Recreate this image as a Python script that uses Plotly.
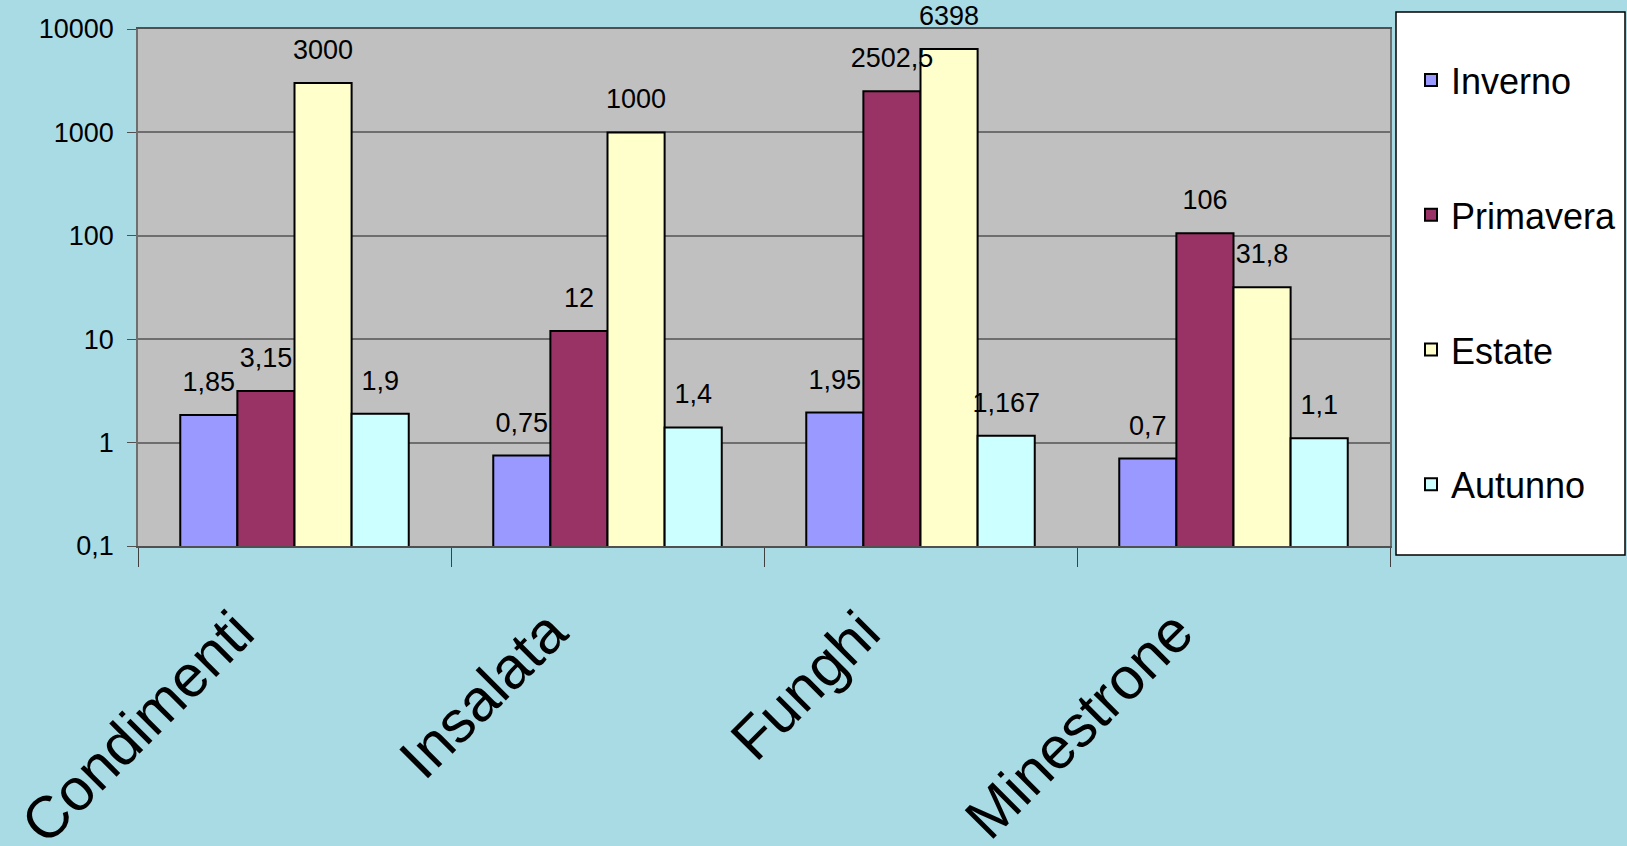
import plotly.graph_objects as go

categories = ["Condimenti", "Insalata", "Funghi", "Minestrone"]
series_names = ["Inverno", "Primavera", "Estate", "Autunno"]
inverno = [1.85, 0.75, 1.95, 0.7]
primavera = [3.15, 12, 2502.5, 106]
estate = [3000, 1000, 6398, 31.8]
autunno = [1.9, 1.4, 1.167, 1.1]
series_values = [inverno, primavera, estate, autunno]
colors = ["#9999ff", "#993366", "#ffffcc", "#ccffff"]
y_tickvals = [0.1, 1, 10, 100, 1000, 10000]
y_ticktext = ["0,1", "1", "10", "100", "1000", "10000"]

W, H = 1627, 846
L, R, T, B = 138, 1390, 29, 546
FONT = "Liberation Sans, Arial, sans-serif"


def fmt(v):
    if float(v).is_integer():
        return str(int(v))
    return repr(v).replace(".", ",")


def px_x(x):
    return (x - L) / (R - L)


def px_y(y):
    return (B - y) / (B - T)


fig = go.Figure()
for i, (name, vals) in enumerate(zip(series_names, series_values)):
    fig.add_trace(go.Bar(
        x=categories, y=vals, name=name,
        marker=dict(color=colors[i], line=dict(color="black", width=2)),
        legendgroup=name, hoverinfo="x+y+name",
    ))
# data labels (grouped scatter text so they sit above each bar)
for i, (name, vals) in enumerate(zip(series_names, series_values)):
    fig.add_trace(go.Scatter(
        x=categories, y=vals, mode="markers+text", name=name,
        marker=dict(size=26, color="rgba(0,0,0,0)"),
        text=[fmt(v) for v in vals], textposition="top center",
        textfont=dict(family=FONT, size=27, color="black"),
        cliponaxis=False, showlegend=False, hoverinfo="skip",
    ))

# legend frame
fig.add_shape(type="rect", xref="paper", yref="paper",
              x0=px_x(1396), x1=px_x(1625), y0=px_y(555), y1=px_y(12),
              fillcolor="white", line=dict(color="black", width=1.5), layer="below")

fig.update_layout(
    width=W, height=H,
    margin=dict(l=L, r=W - R, t=T, b=H - B, pad=0, autoexpand=False),
    paper_bgcolor="#a9dbe5",
    plot_bgcolor="#c0c0c0",
    barmode="group", bargap=0.27, bargroupgap=0,
    scattermode="group", scattergap=0.27,
    font=dict(family=FONT, color="black"),
    showlegend=True,
    legend=dict(x=px_x(1411), xanchor="left", y=px_y(50), yanchor="top",
                bgcolor="rgba(0,0,0,0)", borderwidth=0,
                font=dict(size=36, family=FONT),
                tracegroupgap=85, traceorder="grouped"),
)
fig.update_yaxes(type="log", range=[-1, 4], tickvals=y_tickvals, ticktext=y_ticktext,
                 showgrid=True, gridcolor="#6e6e6e", gridwidth=1.5,
                 ticks="outside", ticklen=9, tickcolor="#505050",
                 showline=True, linecolor="#6e6e6e", linewidth=1.5, mirror=True,
                 tickfont=dict(size=27), zeroline=False, automargin=False,
                 ticklabelstandoff=8)
fig.update_xaxes(tickson="boundaries", ticks="outside", ticklen=19, tickcolor="#404040",
                 showline=True, linecolor="#505050", linewidth=1.5, mirror=True,
                 tickangle=-45, tickfont=dict(size=59), showgrid=False,
                 automargin=False, ticklabelshift=-58, ticklabelstandoff=26)

fig.write_html("out.html")
